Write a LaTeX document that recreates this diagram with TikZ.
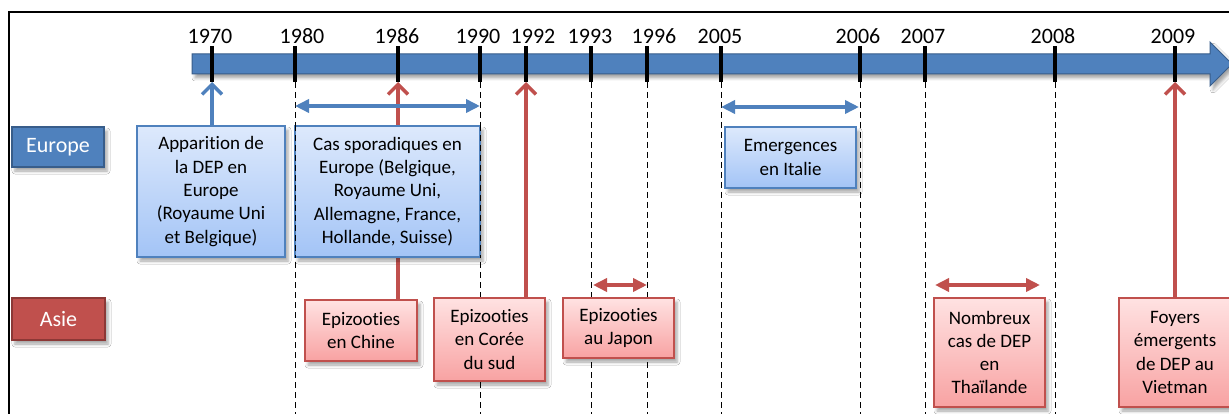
\documentclass[tikz,border=0pt]{standalone}
\usepackage{fontspec}
\setmainfont{Carlito}[Ligatures=CommonOff]
\usetikzlibrary{arrows.meta,shadows.blur}
\definecolor{tlblue}{HTML}{4F81BD}
\definecolor{tlbluedark}{HTML}{385D8A}
\definecolor{tlred}{HTML}{C0504D}
\definecolor{tlreddark}{HTML}{8C3836}
\definecolor{boxbluetop}{HTML}{DDE9FC}
\definecolor{boxbluebot}{HTML}{A3C4F6}
\definecolor{boxredtop}{HTML}{FFE2E2}
\definecolor{boxredbot}{HTML}{F8A2A2}
\tikzset{
  softshadow/.style={blur shadow={shadow xshift=3pt, shadow yshift=-4pt, shadow blur radius=3pt, shadow opacity=35}},
  eventbox/.style={softshadow, line width=1.5pt, align=center, inner sep=0pt,
     font=\fontsize{19}{23.3}\selectfont, text=black},
  eurobox/.style={eventbox, draw=tlblue, top color=boxbluetop, bottom color=boxbluebot},
  asiabox/.style={eventbox, draw=tlred, top color=boxredtop, bottom color=boxredbot},
  regionbox/.style={softshadow, line width=1.8pt, text=white, font=\fontsize{22}{26}\selectfont, inner sep=0pt},
  yearlabel/.style={font=\fontsize{22}{26}\selectfont, inner sep=0pt},
  tickmark/.style={line width=3.8pt, black},
  guideline/.style={black, line width=1pt, dash pattern=on 6pt off 4pt},
  uparrow/.style={line width=3.5pt, -{Straight Barb[length=10pt,width=20pt]}},
  spanarrow/.style={line width=4pt, {Triangle[length=14pt,width=13pt]}-{Triangle[length=14pt,width=13pt]}},
}
\begin{document}
\begin{tikzpicture}[x=1pt,y=-1pt]
\useasboundingbox (0,0) rectangle (1229,414);
\clip (0,0) rectangle (1229,414);
\fill[white] (0,0) rectangle (1229,414);
% frame
\draw[line width=2pt] (9,12) rectangle (1260,440);
% timeline
\draw[softshadow, fill=tlblue, draw=tlbluedark, line width=1pt]
  (192,54) -- (1210,54) -- (1210,42) -- (1232,64) -- (1210,86) -- (1210,74) -- (192,74) -- cycle;
% ticks and years
\foreach \yr/\x/\lx in {1970/212/210, 1980/295/302, 1986/398/397, 1990/480/478, 1992/526/533,
   1993/591/590, 1996/647/654, 2005/721/720, 2006/860/858, 2007/925/923, 2008/1055/1053, 2009/1175/1173}{
  \coordinate (t\yr) at (\x,82);
  \draw[tickmark] (\x,46) -- (t\yr);
  \node[yearlabel] (y\yr) at (\lx,36) {\yr};
}
% dashed guides
\foreach \yr in {1980,1990,1993,1996,2005,2006,2007,2008}{
  \draw[guideline] (t\yr) -- ++(0,340);
}
% Asia boxes
\node[asiabox, minimum width=112pt, minimum height=61pt] (a1986) at (361,330.5) {Epizooties\\en Chine};
\node[asiabox, minimum width=111pt, minimum height=83pt] (a1992) at (489.5,339.5) {Epizooties\\en Corée\\du sud};
\node[asiabox, minimum width=111pt, minimum height=60pt] (a1993) at (618.5,328) {Epizooties\\au Japon};
\node[asiabox, minimum width=111pt, minimum height=109pt] (a2007) at (989.5,352.5) {Nombreux\\cas de DEP\\en\\Thaïlande};
\node[asiabox, minimum width=112pt, minimum height=109pt] (a2009) at (1175,352.5) {Foyers\\émergents\\de DEP au\\Vietman};
% red up arrows
\draw[uparrow, tlred] (t1986 |- a1986.north) -- (t1986);
\draw[uparrow, tlred] (t1992 |- a1992.north) -- (t1992);
\draw[uparrow, tlred] (t2009 |- a2009.north) -- (t2009);
% Europe boxes
\node[eurobox, minimum width=148pt, minimum height=131pt] (e1970) at (211,191.5) {Apparition de\\la DEP en\\Europe\\(Royaume Uni\\et Belgique)};
\node[eurobox, minimum width=185pt, minimum height=131pt] (e1980) at (387.5,191.5) {Cas sporadiques en\\Europe (Belgique,\\Royaume Uni,\\Allemagne, France,\\Hollande, Suisse)};
\node[eurobox, minimum width=131pt, minimum height=61pt] (e2005) at (790.5,157.5) {Emergences\\en Italie};
\draw[guideline] (t1980 |- e1980.north) -- (t1980 |- e1980.south);
\draw[guideline] (t1990 |- e1980.north) -- (t1990 |- e1980.south);
% blue up arrow
\draw[uparrow, tlblue] (t1970 |- e1970.north) -- (t1970);
% span arrows
\coordinate (s1980) at (295,106);
\coordinate (s1990) at (480,106);
\coordinate (s2005) at (721,107);
\coordinate (s2006) at (859,107);
\coordinate (s1993) at (593,285);
\coordinate (s1996) at (647,285);
\coordinate (s2007) at (935,285);
\coordinate (s2008) at (1040,285);
\draw[spanarrow, tlblue] (s1980) -- (s1990);
\draw[spanarrow, tlblue] (s2005) -- (s2006);
\draw[spanarrow, tlred] (s1993) -- (s1996);
\draw[spanarrow, tlred] (s2007) -- (s2008);
% region labels
\node[regionbox, fill=tlblue, draw=tlbluedark, minimum width=92pt, minimum height=40pt] (europe) at (58,147) {Europe};
\node[regionbox, fill=tlred, draw=tlreddark, minimum width=93pt, minimum height=42pt] (asie) at (58.5,319) {Asie};
\end{tikzpicture}
\end{document}
